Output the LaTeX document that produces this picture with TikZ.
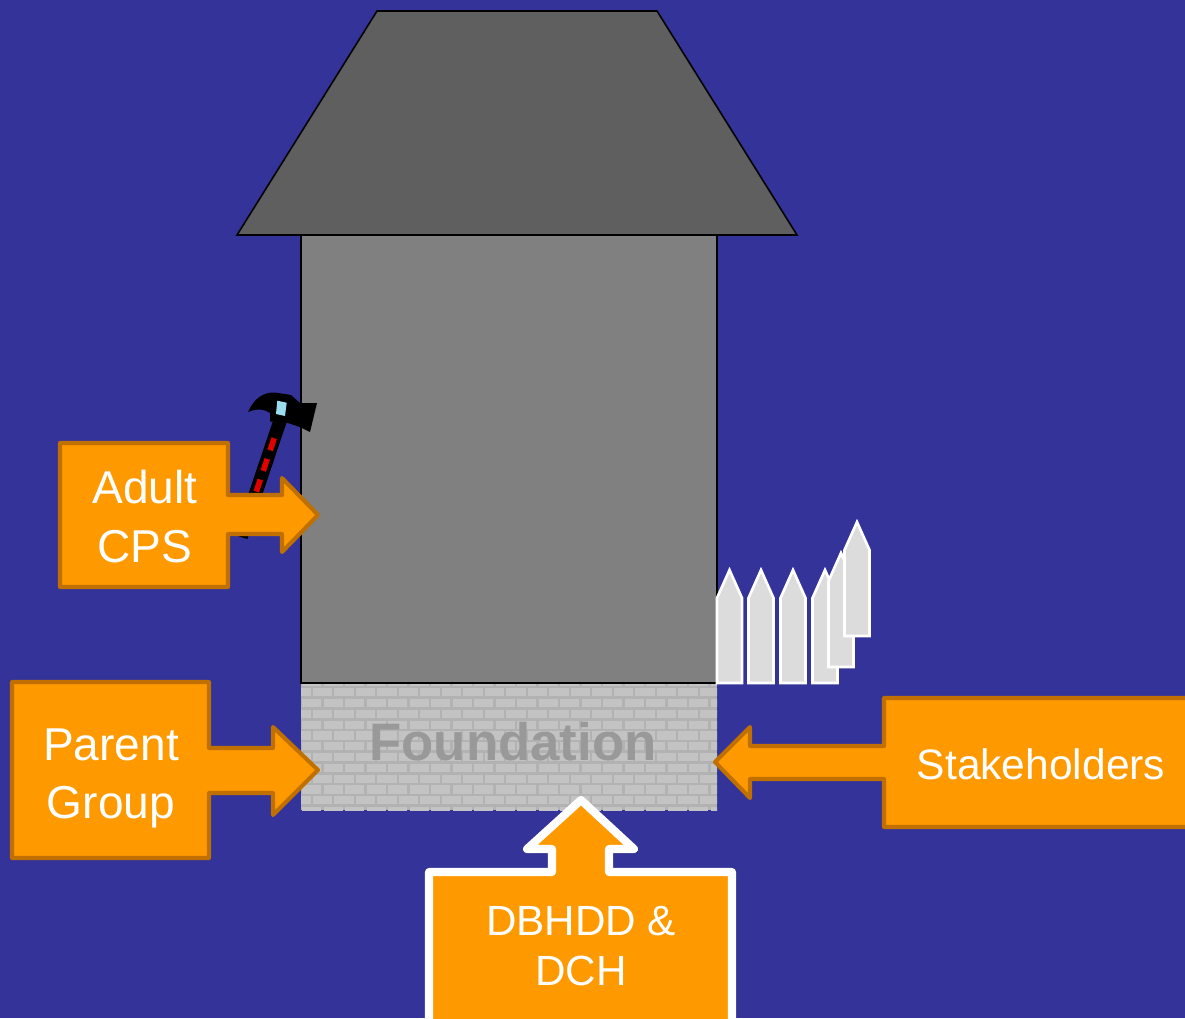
\documentclass[tikz,border=0pt]{standalone}
\usepackage{fontspec}
\setmainfont{Liberation Sans}
\usetikzlibrary{calc}
\definecolor{bgblue}{HTML}{333399}
\definecolor{roofgray}{HTML}{5F5F5F}
\definecolor{wallgray}{HTML}{808080}
\definecolor{mortar}{HTML}{B2B2B2}
\definecolor{brick}{HTML}{C3C3C3}
\definecolor{fnd}{HTML}{999999}
\definecolor{picketfill}{HTML}{DCDCDC}
\definecolor{orangefill}{HTML}{FF9900}
\definecolor{orangeline}{HTML}{C07000}
\definecolor{hamblue}{HTML}{99DDEE}
\definecolor{hamred}{HTML}{E00000}
\tikzset{
  callout/.style={fill=orangefill, draw=orangeline, line width=1.15pt, line join=round},
  whitecallout/.style={fill=orangefill, draw=white, line width=2.3pt, line join=round},
  lbl/.style={text=white, inner sep=0pt, anchor=base, font=\fontsize{13.1}{16}\selectfont},
  picketshape/.style={fill=picketfill, draw=white, line width=0.75pt, line join=miter},
  houseline/.style={draw=black, line width=0.45pt}
}
\newcommand\mypicket[4]{% x, tip, shoulder, bottom
  \draw[picketshape] (#1,#4) -- (#1,#3) -- ({#1+12.5},#2) -- ({#1+25},#3) -- ({#1+25},#4) -- cycle;}
\begin{document}
\begin{tikzpicture}[x=0.01cm,y=-0.01cm]
\fill[bgblue] (0,0) rectangle (1185,1018);
\useasboundingbox (0,0) rectangle (1185,1018);
\clip (0,0) rectangle (1185,1018);
% roof
\draw[houseline, fill=roofgray] (377,11) -- (657,11) -- (797,235) -- (237,235) -- cycle;
% body
\draw[houseline, fill=wallgray] (301,235) rectangle (717,683);
% foundation bricks
\begin{scope}
  \clip (301,683) rectangle (717,810);
  \fill[mortar] (301,683) rectangle (717,810);
  \foreach \r in {0,...,12}{
    \foreach \c in {-1,...,20}{
      \pgfmathsetmacro\bx{301+\c*21.5+mod(\r,2)*10.75}
      \pgfmathsetmacro\by{676+\r*10.8}
      \fill[brick] (\bx+1.2,\by+1.4) rectangle ++(19.1,8.2);
    }
  }
\end{scope}
\draw[black, line width=0.45pt] (301,683) -- (717,683);
\node[text=fnd, inner sep=0pt, anchor=base, font=\bfseries\fontsize{15}{17}\selectfont] (found) at (513,760) {Foundation};
% fence
\mypicket{717}{570}{598}{683}
\mypicket{748.5}{570}{598}{683}
\mypicket{780.5}{570}{598}{683}
\mypicket{812.5}{570}{598}{683}
\mypicket{828.5}{553}{581}{667}
\mypicket{844.5}{522}{550}{636}
% hammer
\coordinate (htop) at (281,418);
\coordinate (hbot) at (241,537);
\draw[black, line width=3.8pt] (htop) -- (hbot);
\draw[hamred, line width=1.6pt, dash pattern=on 3.6pt off 2.6pt, dash phase=0pt] ($(htop)!0.17!(hbot)$) -- ($(htop)!0.97!(hbot)$);
\fill[black] (248,412) .. controls (254,398) and (264,392) .. (275,392.5)
  -- (291,395) -- (300,403) -- (317,403) -- (310,432) -- (300,427) -- (288,423) -- (270,421.5) -- (270,413)
  .. controls (262,408) and (255,409) .. cycle;
\fill[hamblue] (277.3,400.7) -- (286.7,402.7) -- (285,416) -- (276,414) -- cycle;
% Adult CPS
\draw[callout] (60,443) -- (228,443) -- (228,495) -- (282,495) -- (282,478) -- (318,515) -- (282,552) -- (282,534) -- (228,534) -- (228,587) -- (60,587) -- cycle;
\node[lbl] (adult) at (145,503) {Adult};
\node[lbl] (cps) at (145,562) {CPS};
% Parent Group
\draw[callout] (12,682) -- (209,682) -- (209,748) -- (273,748) -- (273,727) -- (318,770) -- (273,815) -- (273,793) -- (209,793) -- (209,858) -- (12,858) -- cycle;
\node[lbl] (parent) at (111,760) {Parent};
\node[lbl] (group) at (111,818) {Group};
% Stakeholders
\draw[callout] (1200,698) -- (884,698) -- (884,746) -- (750,746) -- (750,727) -- (715,762) -- (750,798) -- (750,779) -- (884,779) -- (884,827) -- (1200,827) -- cycle;
\node[lbl, font=\fontsize{12.1}{15}\selectfont] (stake) at (1041,779) {Stakeholders};
% DBHDD & DCH
\fill[black, opacity=0.25] (433,1040) -- (433,876) -- (556,876) -- (556,853) -- (531,853) -- (585,804) -- (638,853) -- (613,853) -- (613,876) -- (736,876) -- (736,1040) -- cycle;
\draw[whitecallout] (429,1040) -- (429,872) -- (552,872) -- (552,849) -- (527,849) -- (581,800) -- (634,849) -- (609,849) -- (609,872) -- (732,872) -- (732,1040) -- cycle;
\node[lbl, font=\fontsize{12}{15}\selectfont] (dbhdd) at (581,935) {DBHDD \&};
\node[lbl, font=\fontsize{12}{15}\selectfont] (dch) at (581,985) {DCH};
\end{tikzpicture}
\end{document}
